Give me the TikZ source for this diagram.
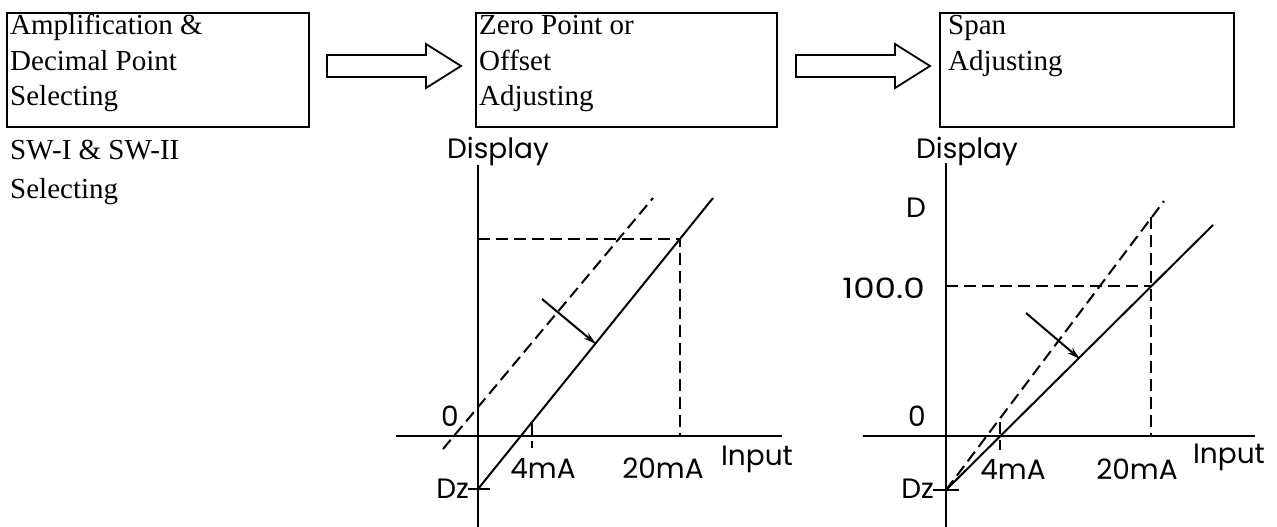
\documentclass[tikz,border=0pt]{standalone}
\usepackage{fontspec}
\setmainfont{Liberation Serif}
\newfontfamily\gfont{Poppins}
\usetikzlibrary{arrows.meta}
\begin{document}
\begin{tikzpicture}[x=1pt,y=-1pt,
  box/.style={draw,line width=1.8pt,inner sep=0pt,anchor=north west},
  btxt/.style={anchor=base west,inner sep=0pt,font=\fontsize{29}{34}\selectfont},
  gtxt/.style={anchor=base,inner sep=0pt,font=\gfont\fontsize{28}{30}\selectfont},
  gbig/.style={anchor=base,inner sep=0pt,font=\gfont\fontsize{28}{30}\selectfont},
  axisline/.style={line width=2.3pt},
  curve/.style={line width=2pt},
  dsh/.style={line width=2pt,dash pattern=on 12pt off 6pt},
  blockarrow/.style={draw,line width=1.8pt,fill=white},
  ptr/.style={line width=2pt,-{Stealth[length=13pt,width=7pt]}}
]
\useasboundingbox (0,0) rectangle (1277,527);

% boxes
\node[box,minimum width=302pt,minimum height=114pt] (b1) at (6,12) {};
\node[box,minimum width=301pt,minimum height=114pt] (b2) at (475,12) {};
\node[box,minimum width=294pt,minimum height=114pt] (b3) at (939,12) {};

\node[btxt] (t11) at (10,35) {Amplification \&};
\node[btxt] (t12) at (10,70.5) {Decimal Point};
\node[btxt] (t13) at (10,106) {Selecting};
\node[btxt] (t14) at (10,159) {SW-I \& SW-II};
\node[btxt] (t15) at (10,198) {Selecting};

\node[btxt] (t21) at (479,35) {Zero Point or};
\node[btxt] (t22) at (479,70.5) {Offset};
\node[btxt] (t23) at (479,106) {Adjusting};

\node[btxt] (t31) at (948,35) {Span};
\node[btxt] (t32) at (948,70.5) {Adjusting};

% block arrows
\draw[blockarrow] (327,55) -- (426,55) -- (426,44) -- (461,66) -- (426,88) -- (426,77) -- (327,77) -- cycle;
\draw[blockarrow] (796,55) -- (895,55) -- (895,44) -- (930,66) -- (895,88) -- (895,77) -- (796,77) -- cycle;

% ---------- chart 1
\coordinate (ya1) at (478,165);
\coordinate (yb1) at (478,527);
\coordinate (xa1) at (396,436);
\coordinate (xb1) at (782,436);
\draw[axisline] (ya1) -- (yb1);
\draw[axisline] (xa1) -- (xb1);
\coordinate (h1) at (478,239);
\coordinate (p1) at (680,239);
\coordinate (q1) at (680,436);
\draw[dsh] (h1) -- (p1) -- (q1);
\coordinate (dz1) at (478,489);
\coordinate (s1) at (713,198);
\draw[curve] (dz1) -- (s1);
\coordinate (da1) at (443,449);
\coordinate (db1) at (653,198);
\draw[dsh] (da1) -- (db1);
\coordinate (ta1) at (532,423);
\coordinate (tb1) at (532,448);
\draw[dsh] (ta1) -- (tb1);
\coordinate (za1) at (468,489);
\coordinate (zb1) at (490,489);
\draw[curve] (za1) -- (zb1);
\coordinate (pa1) at (542,299);
\coordinate (pb1) at (596,344);
\draw[ptr] (pa1) -- (pb1);

\node[gbig] (disp1) at (498,158) {Display};
\node[gtxt] (zero1) at (450,426) {0};
\node[gtxt] (ma41) at (543,478) {4mA};
\node[gtxt] (ma201) at (663,478) {20mA};
\node[gbig] (inp1) at (757,465) {Input};
\node[gtxt,anchor=base east] (dzl1) at (469,498) {Dz};

% ---------- chart 2
\coordinate (ya2) at (946,163);
\coordinate (yb2) at (946,527);
\coordinate (xa2) at (863,436);
\coordinate (xb2) at (1255,436);
\draw[axisline] (ya2) -- (yb2);
\draw[axisline] (xa2) -- (xb2);
\coordinate (h2) at (946,286);
\coordinate (p2) at (1151,286);
\coordinate (r2) at (1151,217);
\coordinate (q2) at (1151,436);
\draw[dsh] (h2) -- (p2);
\draw[dsh] (r2) -- (q2);
\coordinate (dz2) at (946,490);
\coordinate (s2) at (1213,225);
\draw[curve] (dz2) -- (s2);
\coordinate (db2) at (1164,201);
\draw[dsh] (dz2) -- (db2);
\coordinate (ta2) at (1000,422);
\coordinate (tb2) at (1000,450);
\draw[dsh] (ta2) -- (tb2);
\coordinate (za2) at (933,490);
\coordinate (zb2) at (959,490);
\draw[curve] (za2) -- (zb2);
\coordinate (pa2) at (1026,313);
\coordinate (pb2) at (1080,359);
\draw[ptr] (pa2) -- (pb2);

\node[gbig] (disp2) at (967,158) {Display};
\node[gtxt] (dl2) at (916,217) {D};
\node[gtxt,anchor=base east] (hund2) at (925,298) {\scalebox{1.22}[1]{100.0}};
\node[gtxt] (zero2) at (917,426) {0};
\node[gtxt] (ma42) at (1013,479) {4mA};
\node[gtxt] (ma202) at (1137,479) {20mA};
\node[gbig] (inp2) at (1229,463) {Input};
\node[gtxt,anchor=base east] (dzl2) at (934,498) {Dz};
\end{tikzpicture}
\end{document}
